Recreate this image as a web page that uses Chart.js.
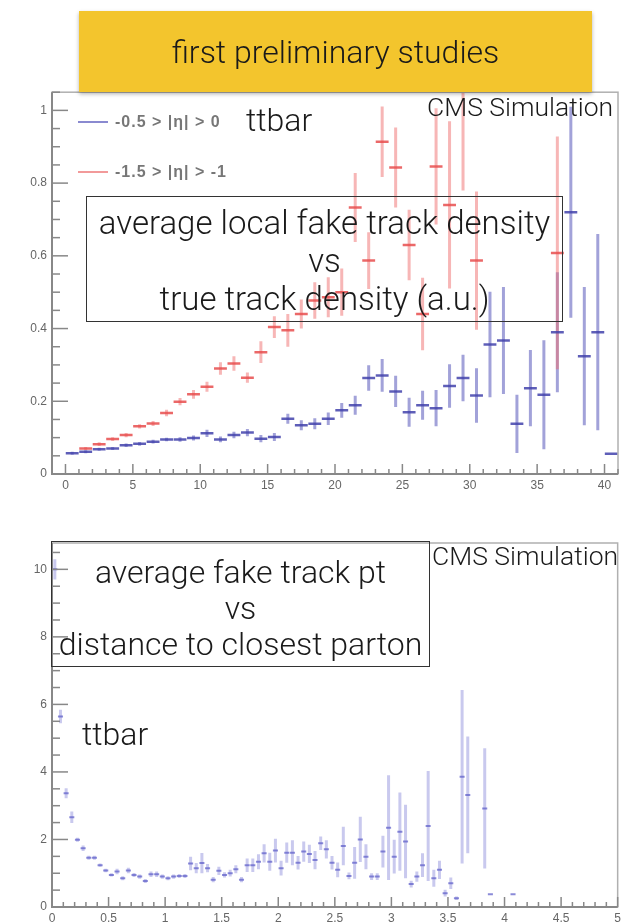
<!DOCTYPE html>
<html><head><meta charset="utf-8">
<script src="https://cdn.jsdelivr.net/npm/chart.js@4.4.1/dist/chart.umd.min.js"></script>
<style>
html,body{margin:0;padding:0;background:#fff}
body{width:625px;height:924px;position:relative;overflow:hidden;font-family:Roboto,"Liberation Sans",Arial,sans-serif;font-weight:300;color:#1a1a1a}
.a{position:absolute;white-space:nowrap}
#w1{left:0;top:80px;width:625px;height:425px}
#w2{left:0;top:520px;width:625px;height:404px}
#banner{left:79px;top:11px;width:513px;height:81px;background:#F3C52D;box-shadow:0 2px 4px rgba(0,0,0,.3);display:flex;align-items:center;justify-content:center;font-size:32px;z-index:5}
.cap{border:1.5px solid #333;box-sizing:border-box;text-align:center;font-size:32px;z-index:4}
.big{font-size:32px;line-height:36px;height:36px;z-index:4}
.cms{font-size:26.5px;line-height:30px;height:30px;z-index:4}
.leg{font-family:"Liberation Sans",Arial,sans-serif;font-size:16px;line-height:20px;font-weight:bold;color:#777;letter-spacing:1px;z-index:4}
.legline{height:2px;z-index:4}
</style></head><body>

<div id="w1" class="a"><canvas id="c1" width="625" height="425"></canvas></div>
<div id="w2" class="a"><canvas id="c2" width="625" height="404"></canvas></div>

<div id="banner" class="a">first preliminary studies</div>

<div class="a legline" style="left:78px;top:121px;width:30px;background:#8a8ad0"></div>
<div class="a leg" id="leg1" style="left:115px;top:112px"></div>
<div class="a legline" style="left:78px;top:171px;width:30px;background:#f29a9a"></div>
<div class="a leg" id="leg2" style="left:115px;top:162px"></div>

<div class="a big" style="left:246px;top:102px">ttbar</div>
<div class="a cms" style="left:427px;top:92px">CMS Simulation</div>
<div class="a cap" style="left:86px;top:196px;width:477px;height:126px;padding-top:7px;line-height:38px;font-size:33px">average local fake track density<br>vs<br>true track density (a.u.)</div>

<div class="a cap" style="left:51px;top:541px;width:379px;height:126px;padding-top:12px;line-height:36px">average fake track pt<br>vs<br>distance to closest parton</div>
<div class="a cms" style="left:432px;top:541px">CMS Simulation</div>
<div class="a big" style="left:82px;top:716px">ttbar</div>

<script>
// ================= DATA =================
// Top plot: histogram bins of width 1 starting at 0
const topBinStart = 0;
const topBinWidth = 1;
const blueLabel = '-0.5 > |\u03b7| > 0';
const redLabel = '-1.5 > |\u03b7| > -1';
const blueVals = [0.057,0.061,0.068,0.070,0.079,0.083,0.089,0.095,0.095,0.099,
                  0.112,0.095,0.107,0.114,0.097,0.102,0.152,0.134,0.138,0.152,
                  0.175,0.189,0.264,0.271,0.227,0.170,0.189,0.181,0.242,0.264,
                  0.216,0.356,0.367,0.138,0.236,0.218,0.390,0.720,0.324,0.390,
                  0.056];
const blueErrs = [0.004,0.004,0.004,0.004,0.005,0.005,0.005,0.005,0.006,0.007,
                  0.010,0.008,0.009,0.010,0.010,0.011,0.014,0.014,0.015,0.017,
                  0.020,0.026,0.035,0.045,0.043,0.040,0.040,0.050,0.060,0.064,
                  0.075,0.145,0.147,0.080,0.105,0.150,0.165,0.290,0.190,0.270,
                  0];
const redVals = [null,0.070,0.082,0.096,0.107,0.131,0.139,0.168,0.199,0.219,
                 0.240,0.290,0.304,0.265,0.335,0.404,0.395,0.440,0.477,0.486,
                 0.500,0.733,0.587,0.914,0.843,0.630,0.440,0.846,0.740,1.100,
                 0.587,null,null,null,null,null,0.608];
const redErrs = [0,0.004,0.005,0.005,0.006,0.006,0.007,0.009,0.010,0.012,
                 0.014,0.017,0.020,0.014,0.030,0.030,0.045,0.040,0.050,0.055,
                 0.065,0.095,0.078,0.097,0.110,0.097,0.100,0.160,0.230,0.320,
                 0.190,0,0,0,0,0,0.320];
const topXTicks = [0,5,10,15,20,25,30,35,40];
const topYTicks = [0,0.2,0.4,0.6,0.8,1];

// Bottom plot: histogram bins of width 0.05 starting at 0
const botBinStart = 0;
const botBinWidth = 0.05;
const ptVals = [10.0,5.64,3.37,2.66,1.99,1.74,1.46,1.46,1.24,1.08,
                0.95,1.05,0.85,1.08,0.95,0.90,0.77,0.97,0.97,0.90,
                0.85,0.90,0.92,0.92,1.29,1.15,1.30,1.15,0.81,1.07,
                0.95,1.00,1.12,0.81,1.24,1.24,1.34,1.59,1.34,1.67,
                1.15,1.61,1.61,1.31,1.64,1.57,1.39,1.89,1.71,1.31,
                1.10,1.81,0.92,1.31,2.00,1.49,0.90,0.90,1.64,2.35,
                1.49,2.23,1.94,0.68,0.90,1.24,2.40,0.85,1.10,0.41,
                0.70,0.26,3.86,3.32,null,null,2.92,0.38,null,null,
                null,0.38];
const ptErrs = [0.30,0.20,0.15,0.17,0.06,0.08,0.06,0.06,0.05,0.05,
                0.05,0.08,0.06,0.08,0.06,0.06,0.06,0.08,0.08,0.06,
                0.06,0.06,0.06,0.06,0.20,0.15,0.30,0.12,0.08,0.12,
                0.08,0.10,0.12,0.08,0.20,0.20,0.22,0.27,0.27,0.35,
                0.22,0.30,0.37,0.20,0.30,0.27,0.27,0.20,0.27,0.20,
                0.22,0.57,0.10,0.47,0.67,0.37,0.10,0.10,0.47,1.55,
                0.50,1.16,1.09,0.10,0.15,0.35,1.63,0.25,0.27,0.10,
                0.17,0.05,2.57,1.73,0,0,1.78,0,0,0,
                0,0];
const botXTicks = [0,0.5,1,1.5,2,2.5,3,3.5,4,4.5,5];
const botYTicks = [0,2,4,6,8,10];

// ================= BUILD =================
document.getElementById('leg1').textContent = blueLabel;
document.getElementById('leg2').textContent = redLabel;

function pts(vals, errs, start, w){
  const out = [];
  vals.forEach((v,i)=>{ if (v === null) return; out.push({x:start + w*(i+0.5), y:v, e:errs[i]}); });
  return out;
}

const rootPlugin = {
  id:'root',
  beforeDatasetsDraw(chart, args, o){
    const {ctx, chartArea:a, scales:{x,y}} = chart;
    ctx.save();
    ctx.beginPath(); ctx.rect(a.left, a.top, a.right-a.left, a.bottom-a.top); ctx.clip();
    for (let i = chart.data.datasets.length-1; i >= 0; i--){
      const ds = chart.data.datasets[i];
      ctx.strokeStyle = o.errColors[i]; ctx.lineWidth = o.errWidth;
      ds.data.forEach(p=>{
        if (!p.e) return;
        const px = x.getPixelForValue(p.x);
        ctx.beginPath();
        ctx.moveTo(px, y.getPixelForValue(p.y - p.e));
        ctx.lineTo(px, y.getPixelForValue(p.y + p.e));
        ctx.stroke();
      });
    }
    ctx.restore();
  },
  afterDraw(chart, args, o){
    const {ctx, chartArea:a, scales:{x,y}} = chart;
    ctx.save();
    ctx.strokeStyle = o.frameColor; ctx.lineWidth = 1.5;
    ctx.strokeRect(a.left, a.top, a.right-a.left, a.bottom-a.top);
    ctx.strokeStyle = o.axisColor; ctx.lineWidth = 2;
    ctx.beginPath(); ctx.moveTo(a.left, a.top); ctx.lineTo(a.left, a.bottom); ctx.lineTo(a.right, a.bottom); ctx.stroke();
    ctx.lineWidth = 1.5;
    const isMajor = (v, M) => Math.abs(v/M - Math.round(v/M)) < 1e-6;
    for (let n = Math.ceil(x.min/o.xMinor - 1e-6); n*o.xMinor <= x.max + 1e-9; n++){
      const v = n*o.xMinor, px = x.getPixelForValue(v);
      const L = isMajor(v, o.xMajor) ? o.xMajLen : o.xMinLen;
      ctx.beginPath(); ctx.moveTo(px, a.bottom); ctx.lineTo(px, a.bottom - L); ctx.stroke();
    }
    for (let n = Math.ceil(y.min/o.yMinor - 1e-6); n*o.yMinor <= y.max + 1e-9; n++){
      const v = n*o.yMinor, py = y.getPixelForValue(v);
      const L = isMajor(v, o.yMajor) ? o.yMajLen : o.yMinLen;
      ctx.beginPath(); ctx.moveTo(a.left, py); ctx.lineTo(a.left + L, py); ctx.stroke();
    }
    ctx.restore();
  }
};

function axis(min, max, tickVals, size, isX){
  return {
    type:'linear', min, max,
    grid:{display:false, drawTicks:false},
    border:{display:false},
    ticks:{color:'#666', font:{family:'Liberation Sans', size:12}, padding: isX ? 4 : 5,
           maxRotation:0, autoSkip:false, callback:(v)=>String(v)},
    afterBuildTicks:(s)=>{ s.ticks = tickVals.map(v=>({value:v})); },
    afterFit:(s)=>{ if (isX) s.height = size; else s.width = size; }
  };
}

function halfBin(w){
  return (c)=>{ const s = c.chart.scales.x; return Math.abs(s.getPixelForValue(w) - s.getPixelForValue(0))/2 - 0.3; };
}

new Chart(document.getElementById('c1'), {
  type:'scatter',
  data:{datasets:[
    {label:redLabel, data:pts(redVals, redErrs, topBinStart, topBinWidth),
     pointStyle:'line', pointRadius:halfBin(topBinWidth), pointBorderWidth:2.5,
     pointBorderColor:'rgba(232,78,78,0.85)', pointBackgroundColor:'rgba(232,78,78,0.85)'},
    {label:blueLabel, data:pts(blueVals, blueErrs, topBinStart, topBinWidth),
     pointStyle:'line', pointRadius:halfBin(topBinWidth), pointBorderWidth:2.5,
     pointBorderColor:'rgba(66,66,172,0.85)', pointBackgroundColor:'rgba(66,66,172,0.85)'}
  ]},
  options:{
    responsive:false, animation:false, events:[],
    layout:{padding:{left:0, right:7, top:12, bottom:0}},
    plugins:{legend:{display:false}, tooltip:{enabled:false},
      root:{errColors:['rgba(240,110,110,0.5)','rgba(95,95,190,0.58)'], errWidth:3,
            frameColor:'#b0b0b0', axisColor:'#888',
            xMinor:1, xMajor:5, xMajLen:10, xMinLen:5,
            yMinor:0.05, yMajor:0.2, yMajLen:16, yMinLen:8}},
    scales:{ x:axis(-1, 41, topXTicks, 31, true), y:axis(0, 1.05, topYTicks, 52, false) }
  },
  plugins:[rootPlugin]
});

new Chart(document.getElementById('c2'), {
  type:'scatter',
  data:{datasets:[
    {label:'pt', data:pts(ptVals, ptErrs, botBinStart, botBinWidth),
     pointStyle:'line', pointRadius:halfBin(botBinWidth), pointBorderWidth:2,
     pointBorderColor:'rgba(90,90,200,0.7)', pointBackgroundColor:'rgba(90,90,200,0.7)'}
  ]},
  options:{
    responsive:false, animation:false, events:[],
    layout:{padding:{left:0, right:3, top:23, bottom:0}},
    plugins:{legend:{display:false}, tooltip:{enabled:false},
      root:{errColors:['rgba(120,120,212,0.4)'], errWidth:3,
            frameColor:'#b0b0b0', axisColor:'#888',
            xMinor:0.1, xMajor:0.5, xMajLen:10, xMinLen:5,
            yMinor:0.5, yMajor:2, yMajLen:16, yMinLen:8}},
    scales:{ x:axis(0, 5, botXTicks, 17, true), y:axis(0, 10.78, botYTicks, 52, false) }
  },
  plugins:[rootPlugin]
});
</script>
</body></html>
